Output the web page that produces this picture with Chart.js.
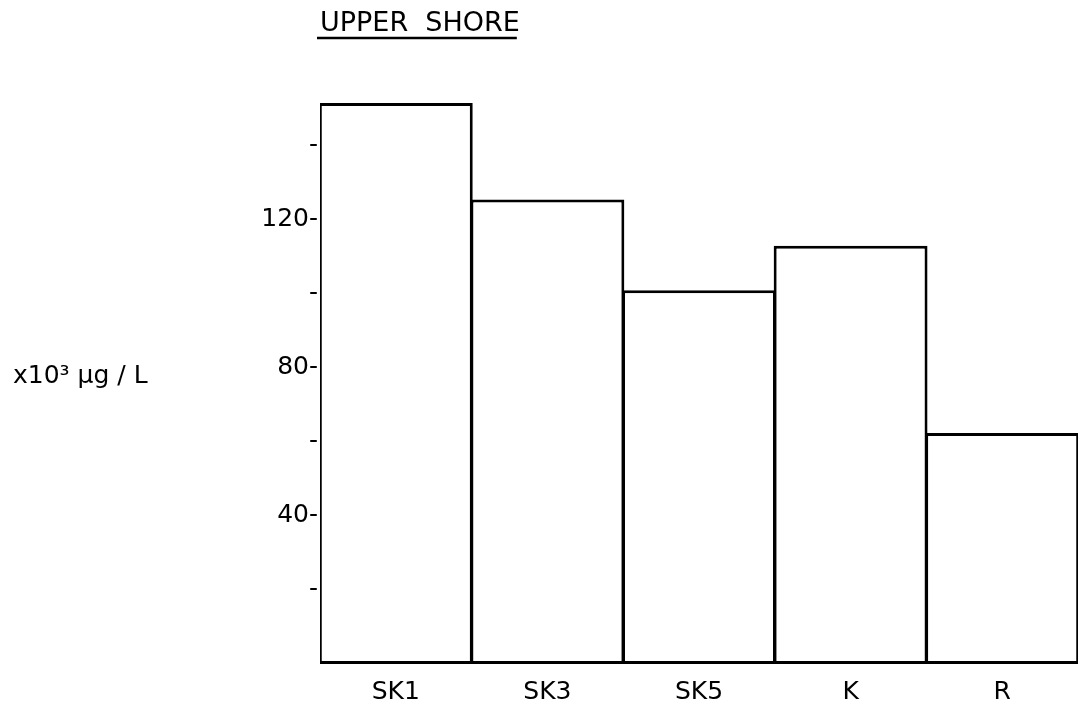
<!DOCTYPE html>
<html>
<head>
<meta charset="utf-8">
<script src="https://cdn.jsdelivr.net/npm/chart.js@4/dist/chart.umd.min.js"></script>
<style>
  html, body { margin: 0; padding: 0; background: #fff; }
  #wrap { width: 1086px; height: 712px; }
</style>
</head>
<body>
<div id="wrap"><canvas id="shoreChart" width="1086" height="712"></canvas></div>
<script>
let stations = ['SK1', 'SK3', 'SK5', 'K', 'R'];
let concentrations = [151.6, 125.5, 101, 113, 62.4];
let labelledTicks = [40, 80, 120];
let chartTitle = 'UPPER  SHORE';
let unitLabel = 'x10\u00b3 \u00b5g / L';

let fontFamily = '"DejaVu Sans", sans-serif';

// underline under the title and the unit text at the left
let extras = {
    id: 'extras',
    afterDraw(chart) {
        let ctx = chart.ctx;
        let area = chart.chartArea;
        ctx.save();
        ctx.font = '27px ' + fontFamily;
        let w = ctx.measureText(chartTitle).width;
        ctx.strokeStyle = '#000';
        ctx.lineWidth = 2.5;
        ctx.beginPath();
        ctx.moveTo(area.left - 3, 38);
        ctx.lineTo(area.left - 3 + w, 38);
        ctx.stroke();

        ctx.fillStyle = '#000';
        ctx.font = '25px ' + fontFamily;
        ctx.textAlign = 'left';
        ctx.textBaseline = 'middle';
        ctx.fillText(unitLabel, 13, 376);
        ctx.restore();
    }
};

let ctx = document.getElementById('shoreChart').getContext('2d');

let shoreChart = new Chart(ctx, {
    type: 'bar',
    data: {
        labels: stations,
        datasets: [{
            data: concentrations,
            backgroundColor: '#ffffff',
            borderColor: '#000000',
            borderWidth: 3,
            borderSkipped: false,
            barPercentage: 1.015,
            categoryPercentage: 1
        }]
    },
    options: {
        responsive: false,
        animation: false,
        layout: {
            padding: { left: 0, right: 8, top: 0, bottom: 0 }
        },
        plugins: {
            legend: { display: false },
            tooltip: { enabled: false },
            title: {
                display: true,
                text: chartTitle,
                align: 'start',
                fullSize: false,
                color: '#000',
                font: { family: fontFamily, size: 27, weight: 'normal', lineHeight: 1.2 },
                padding: { top: 8, bottom: 61 }
            }
        },
        scales: {
            x: {
                grid: { display: false, drawTicks: false },
                border: { display: false },
                ticks: {
                    color: '#000',
                    padding: 13,
                    font: { family: fontFamily, size: 25 }
                },
                afterFit: function (scale) { scale.height = 48; }
            },
            y: {
                min: 0,
                max: 152,
                grid: { display: false, drawTicks: false },
                border: { display: false },
                ticks: {
                    stepSize: 20,
                    includeBounds: false,
                    color: '#000',
                    padding: 2,
                    font: { family: fontFamily, size: 25 },
                    callback: function (value) {
                        if (value === 0) return '';
                        return labelledTicks.includes(value) ? value + '-' : '-';
                    }
                },
                afterFit: function (scale) { scale.width = 320; }
            }
        }
    },
    plugins: [extras]
});
</script>
</body>
</html>
